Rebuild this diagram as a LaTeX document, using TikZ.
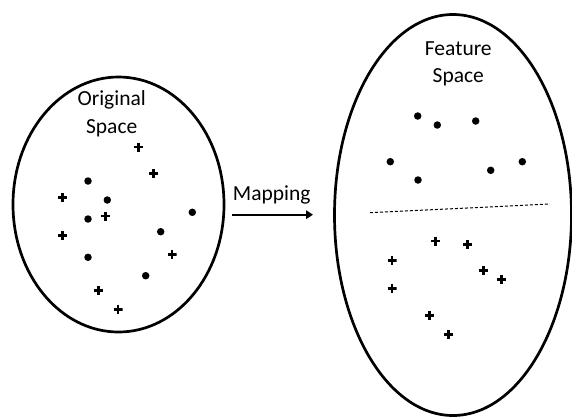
\documentclass[tikz,border=0pt]{standalone}
\usepackage{fontspec}
\setmainfont{Carlito}
\usetikzlibrary{shapes.geometric,arrows.meta}
\tikzset{
  space/.style={draw, ellipse, line width=2.7pt, inner sep=0pt},
  dot/.style={circle, fill, inner sep=0pt, minimum size=7.5pt},
  plusmark/.style={inner sep=0pt, minimum size=9pt,
    path picture={\draw[line width=2.9pt]
      (path picture bounding box.north) -- (path picture bounding box.south)
      (path picture bounding box.west) -- (path picture bounding box.east);}},
  lbl/.style={font=\fontsize{21.5}{26}\selectfont, inner sep=0pt, anchor=base},
}
\begin{document}
\begin{tikzpicture}[x=1pt, y=-1pt]
\useasboundingbox (0,0) rectangle (572,418);

% the two spaces
\node[space, minimum width=211pt, minimum height=255pt] (orig) at (118.5,204.5) {};
\node[space, minimum width=237pt, minimum height=401pt] (feat) at (453,215) {};

\node[lbl] (origlbl1) at (111.7,105) {Original};
\node[lbl] (origlbl2) at (111.7,133) {Space};
\node[lbl] (featlbl1) at (458.3,55) {Feature};
\node[lbl] (featlbl2) at (458.3,82) {Space};

% points in the original space
\node[dot] (o1) at (88,181) {};
\node[dot] (o2) at (107.3,200) {};
\node[dot] (o3) at (88,219) {};
\node[dot] (o4) at (192.3,212.3) {};
\node[dot] (o5) at (160.7,231.7) {};
\node[dot] (o6) at (88,257.3) {};
\node[dot] (o7) at (145.7,275.7) {};
\node[plusmark] (p1) at (138.3,147) {};
\node[plusmark] (p2) at (153.3,173.7) {};
\node[plusmark] (p3) at (62.7,197.3) {};
\node[plusmark] (p4) at (105.3,216) {};
\node[plusmark] (p5) at (62.7,235.5) {};
\node[plusmark] (p6) at (172,254.3) {};
\node[plusmark] (p7) at (98.7,290.7) {};
\node[plusmark] (p8) at (118,309.3) {};

% points in the feature space
\node[dot] (f1) at (417.7,116) {};
\node[dot] (f2) at (437.3,125) {};
\node[dot] (f3) at (475.7,121) {};
\node[dot] (f4) at (390.3,161.7) {};
\node[dot] (f5) at (418,180) {};
\node[dot] (f6) at (490.7,170.3) {};
\node[dot] (f7) at (522.3,161.7) {};
\node[plusmark] (q1) at (435.3,241) {};
\node[plusmark] (q2) at (467.7,244.3) {};
\node[plusmark] (q3) at (392,260.3) {};
\node[plusmark] (q4) at (392,288.7) {};
\node[plusmark] (q5) at (483.7,270.7) {};
\node[plusmark] (q6) at (501.7,279.3) {};
\node[plusmark] (q7) at (429.3,315.3) {};
\node[plusmark] (q8) at (448.3,334.3) {};

% separating boundary
\coordinate (sepL) at (370,212.7);
\coordinate (sepR) at (550,204);
\draw[line width=1pt, dash pattern=on 3pt off 2pt] (sepL) -- (sepR);

% mapping arrow
\coordinate (mapA) at (232,214.7);
\coordinate (mapB) at (313,214.7);
\draw[line width=2.4pt, -{Triangle[length=7pt,width=8.5pt]}] (mapA) -- (mapB);
\node[lbl] (maplbl) at (271.7,200) {Mapping};
\end{tikzpicture}
\end{document}
